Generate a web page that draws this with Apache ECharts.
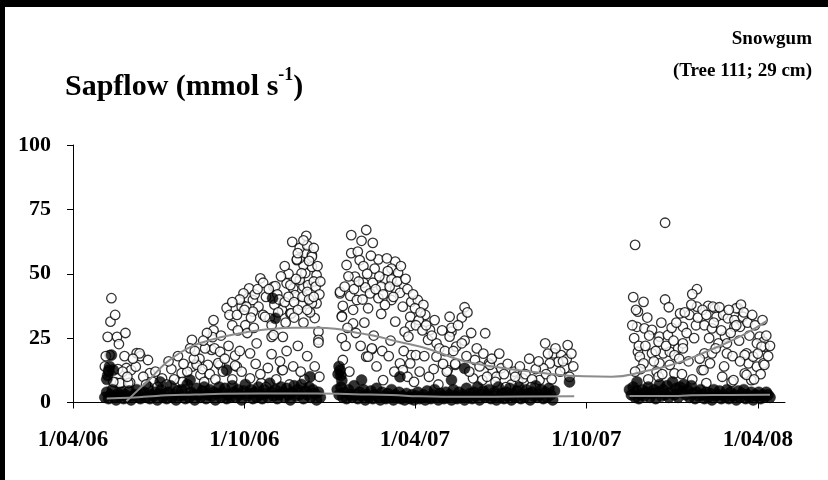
<!DOCTYPE html>
<html>
<head>
<meta charset="utf-8">
<script src="https://cdn.jsdelivr.net/npm/echarts@6/dist/echarts.min.js"></script>
<style>
  html, body { margin: 0; padding: 0; background: #fff; }
  #chart { width: 828px; height: 480px; }
</style>
</head>
<body>
<div id="chart"></div>
<script>
// x axis: days since 1/04/2006
const tickDays = [0, 183, 365, 548, 731];
const tickLabels = ['1/04/06', '1/10/06', '1/04/07', '1/10/07', '1/04/08'];

// open circles (day, sapflow)
const openSeg1 = [
  [37,25.5],[40,31.4],[41,40.5],[45,34],[47,25.5],[49,22.7],[56,27],[39,18.4],[35,18],[68,19.2],[72,18],[80,16.5],
  [57,13.4],[62,12.6],[67,13.9],[46,7.7],[52,7.7],[61,7.7],[82,11.4],[85,8],[71,19.1],[50,7.5],[59,7.5],
  [95,9.4],[96,6.1],[114,8],[127,13.9],[132,15.2],[136,10.7],[144,14.6],[157,14.6],[175,13.9],[148,20.4],
  [112,18],[127,24.3],[125,21],[135,17],[132,14.6],[116,11.4],[117,8],[141,21],[150,32],[150,28],[149,25.4],
  [151,21],[157,19.7],[155,15.3],[173,18.2],[173,14.3],[164,36.7],[167,34],[175,34],[180,37.2],[184,30],
  [187,40.5],[188,44.3],[192,39.8],[200,48.2],[203,46.5],[214,45],[198,37.2],[203,34],[210,32.7],[212,30],
  [212,18.8],[208,13.4],[223,12.6],[212,25.5],[224,25.5],[223,36],[232,34.6],[228,46.3],[235,44.3],[246,45],
  [242,47.6],[248,50.3],[260,49.5],[255,52.7],[246,53.4],[242,56],[248,58],[239,55.3],[234,62.4],[242,60],
  [249,64.7],[255,57.3],[260,38.5],[258,32.8],[262,27.5],[262,24.3],[255,38.5],[239,55.6],[255,56.6],
  [244,50.2],[232,45.6],[251,45.6],[216,45.2],[182,42.4],[237,41.7],[244,37.9],[185,37.2],[192,35.3],
  [205,33.3],[233,34.6],[214,26.2],[196,23],[262,23.3],[189,19.1],[224,12.6],[189,9.4],[201,7.5],
  [170,30],[176,28],[178,40],[183,36],[190,33],[194,42],[197,44],[170,39],[186,27],[193,29],
  [206,41],[209,44],[215,38],[218,42],[220,40],[226,39],[230,41],[219,35],[227,31],[236,39],[238,48],
  [230,50],[226,53],[222,49],[240,36],[245,41],[250,43],[252,40],[257,47],[253,35],[236,33],[246,31],
  [250,61],[252,55],[257,60],[259,45],[261,53],[263,42],[257,41],[250,36],[264,47],[246,63],[240,58],
  [88,12],[100,7],[105,13],[108,9],[120,5],[122,12],[129,17],[138,13],[140,8],[146,11],[152,9],[160,12],
  [162,17],[166,22],[170,9],[178,20],[180,12],[158,26],[143,27],[139,24],[130,20],[118,15],[102,16],
  [195,15],[200,11],[206,6],[217,9],[221,16],[228,20],[235,14],[240,22],[247,9],[250,18],[258,14],[263,10],
  [231,7],[243,12],[34,14],[38,12],[43,8],[48,13],[53,12],[55,18],[58,10],[64,17],[75,10],[78,7],[90,6]
];
const openSeg2 = [
  [297,65],[313,67],[308,62.8],[320,62],[297,58],[304,58.6],[306,55.3],[292,53.4],[310,53],[326,55.6],
  [344,54.7],[322,52],[340,52],[336,51],[301,48.9],[347,50.4],[310,46.5],[320,46.5],[333,47.8],[340,47.8],
  [312,44.7],[329,45],[344,44.3],[285,42.4],[296,41.4],[317,42.4],[349,42.6],[303,39.8],[326,40.5],[340,39.8],
  [288,37.5],[315,36.6],[333,37.9],[299,36],[287,33.6],[329,34.4],[352,37.2],[361,39.1],[368,39.8],[374,37.9],
  [365,36.6],[376,34],[360,33.3],[369,32],[299,30.7],[344,31.4],[360,29.7],[354,27.5],[358,25.6],[381,28.2],
  [379,24.3],[388,23],[402,33.3],[404,27.5],[402,25.6],[287,25],[388,17.8],[319,20.7],[313,17.8],[361,18.4],
  [366,18.4],[360,15.2],[349,15.2],[352,12.6],[400,12.6],[408,14.6],[331,8.7],[288,16.5],[285,43],[287,33.3],
  [319,21],[315,17.8],[404,29],[418,37],[440,26.9],[418,24],[409,21.7],[429,16.5],[408,15],[444,15.2],
  [448,12],[457,13.3],[452,10],[399,12],[427,9.4],[437,8.7],[475,8],[480,9.4],[504,23],[528,22.3],[513,19.1],
  [521,18.4],[518,15.8],[509,15.2],[527,16.8],[525,13.3],[502,13.3],[498,8.7],[445,14.6],
  [290,45],[294,49],[300,44],[305,47],[309,40],[314,50],[318,57],[323,44],[327,49],[331,42],[335,56],
  [338,45],[342,41],[346,47],[350,53],[355,48],[357,44],[363,42],[366,30],[371,35],[373,28],[377,30],
  [383,26],[386,32],[391,21],[394,28],[397,20],[293,29],[291,22],[295,12],[302,27],[307,22],[311,31],
  [321,26],[324,14],[330,20],[337,18],[339,24],[343,12],[353,20],[357,10],[364,8],[370,12],[375,18],
  [380,10],[385,13],[390,7],[395,15],[415,33],[421,35],
  [406,20],[411,30],[415,23],[420,18],[423,12],[425,27],[431,21],[434,14],[438,19],[442,10],[447,17],
  [451,8],[455,19],[460,11],[464,15],[468,7],[471,12],[477,14],[483,11],[487,17],[490,9],[494,13],
  [497,16],[505,11],[507,19],[511,9],[515,21],[520,12],[523,16],[530,10],[532,19],[534,14],[489,6],
  [462,6],[472,10]
];
const openSeg3 = [
  [632,69.8],[600,61.2],[598,40.9],[609,39.1],[603,35.3],[632,40],[636,37],[648,34.6],[666,44],[661,42.1],
  [678,37.5],[685,36.6],[666,37.2],[658,34],[651,29.4],[665,30],[674,30],[682,28.8],[687,33.3],[694,34],
  [699,32.7],[706,32],[710,36.6],[715,33.3],[712,29.4],[706,29.4],[602,29.4],[610,28.8],[618,28.2],[626,25.6],
  [635,26.2],[625,23.6],[603,19.7],[605,17.8],[618,19.1],[609,15.2],[630,19.1],[637,19.7],[646,21],[642,18.4],
  [651,23],[651,21],[626,15.2],[637,14.6],[623,12],[625,10],[671,12.6],[680,15.2],[674,19.1],[682,19.1],
  [689,23],[696,25.6],[698,19.1],[703,8],[719,19.1],[721,15.2],[726,17.8],[730,13.9],[737,15.2],[733,25.6],
  [737,23.6],[738,21.7],[730,23],[717,11.3],[724,8.7],[642,11.3],[676,7.5],[735,21.7],[738,14.6],[717,18.4],
  [719,10.7],[705,8.7],[673,12.6],[683,37.2],[708,36.6],[698,23],
  [597,30],[599,25],[601,36],[604,22],[606,13],[611,22],[613,33],[615,26],[620,16],[622,20],[628,31],
  [629,11],[633,22],[639,29],[641,24],[644,31],[647,17],[650,11],[653,35],[655,27],[657,16],[660,38],
  [663,25],[667,33],[669,17],[672,36],[676,34],[679,25],[684,31],[686,21],[690,37],[692,28],[695,14],
  [700,36],[702,27],[704,18],[708,30],[711,24],[713,38],[716,35],[720,31],[722,26],[725,34],[728,30],
  [731,19],[734,11],[736,32],[740,26],[742,18],[744,22],[727,9],[712,16],[693,10],[661,9],[614,9],[600,12]
];

// filled circles: dense band, one value every 2nd day from the start day
const bandStart1 = 34;
const band1 = [
  2,4,1.5,3,5,2,1,3.5,2.5,4, 1.5,3,2,4.5,1,2.5,3,5,2,1.5, 3,4,2,6,1.5,3,2.5,4,1,3.5,
  5,2,3,1.5,4,6.5,2,3,1,4.5, 2.5,5,3,1.5,7,2,4,3,1,5.5, 3,2,4.5,6,1.5,3,5,2.5,4,1,
  3.5,6,2,4,5.5,1.5,3,2,6.5,4, 2,5,3,1,4.5,7,2.5,3.5,5,1.5, 4,2,6,3,1.5,5,3.5,2,7.5,4,
  2.5,5,1.5,3,6,4,2,5.5,3,1, 4,6.5,2.5,5,3,7,1.5,4.5,3,6, 2,5,3.5,1,4,2
];
const bandStart2 = 282;
const band2 = [
  5,3,6,2,4,1.5,5,3,2,6.5, 3,1.5,4,2.5,5,1,3,2,4.5,1.5, 3,5.5,2,1,4,2.5,1.5,3.5,2,5,
  1,3,2,4,1.5,2.5,1,3.5,2,1.5, 3,1,2.5,4,1.5,2,3,1,4.5,2, 1.5,3,5,2,1,3.5,2.5,1.5,4,2,
  3,1,5,2.5,1.5,4,2,3,1,5.5, 2,3.5,1.5,4,2.5,6,1,3,4.5,2, 3,5,1.5,2.5,4,1,6,2,3.5,1.5,
  4,2.5,5.5,1,3,2,4.5,6,1.5,3, 2,5,3.5,1,4,2.5,6.5,2,3,5, 1.5,4,2,5.5,3,1,4.5
];
const bandStart3 = 594;
const band3 = [
  5,3,6,2,4.5,1.5,3,5,2.5,4, 6,2,3.5,5,1.5,4,7,2.5,5,3, 6.5,2,4,8,3,5.5,2,6,4,7,
  3,5,2,6.5,3.5,1.5,4,2.5,5,3, 1.5,4,2,3.5,1,5,2.5,3,4.5,1.5, 3,2,5,1.5,4,2.5,3,1,4.5,2,
  3.5,5,1.5,3,2,4,1,3,2.5,4, 1.5,3,2,4,3,2
];
const nightSpikes = [
  [36,9],[37,10.5],[38,12.5],[39,14],[41,18.4],[43,12.6],[93,8],[125,8.7],[164,12.6],[213,40.5],
  [216,32.7],[253,10],[283,11],[284,14],[285,12.5],[286,10.5],[287,8.5],[308,8.7],[349,10],[404,8.7],
  [418,13.3],[530,8],[602,8]
];

// fitted trend lines
const trendDay = [
  [57,0.5],[70,5],[82,9],[95,14],[107,17.5],[120,20.5],[135,23],[160,25.5],[185,27.3],[210,28.5],
  [235,29],[260,29],[280,28.6],[300,27.3],[320,26],[345,23.8],[381,20.6],[416,16.2],[452,13.8],[488,12],
  [520,10.7],[545,10.2],[575,10],[609,12],[644,15.2],[680,20.4],[715,26.2],[741,31.8]
];
const trendNight = [
  [36,1.6],[50,1.7],[80,2.3],[100,2.8],[130,3.1],[160,3.4],[200,3.5],[260,3.5],[300,3.2],[340,2.9],
  [370,2.4],[420,2.2],[480,2.3],[535,2.4],[570,'-'],[594,2.5],[640,2.5],[660,2.8],[700,2.9],[744,3]
];

function bandPoints(start, vals) {
  return vals.map((v, i) => [start + 2 * i, v]);
}
const nightData = bandPoints(bandStart1, band1)
  .concat(bandPoints(bandStart2, band2), bandPoints(bandStart3, band3), nightSpikes);
const dayData = openSeg1.concat(openSeg2, openSeg3);

const serif = 'Liberation Serif';
const chart = echarts.init(document.getElementById('chart'));

chart.setOption({
  animation: false,
  backgroundColor: '#fff',
  grid: {left: 73, right: 43, top: 145, bottom: 77.5},
  title: {
    text: '{a|Sapflow (mmol s}{s|-1}{a|)}',
    left: 60,
    top: 61,
    textStyle: {
      rich: {
        a: {fontFamily: serif, fontWeight: 'bold', fontSize: 30, color: '#000', lineHeight: 36, verticalAlign: 'bottom'},
        s: {fontFamily: serif, fontWeight: 'bold', fontSize: 18, color: '#000', lineHeight: 36, verticalAlign: 'top'}
      }
    }
  },
  graphic: [
    {type: 'rect', left: 0, top: 0, shape: {width: 828, height: 7}, style: {fill: '#000'}},
    {type: 'rect', left: 0, top: 0, shape: {width: 5, height: 480}, style: {fill: '#000'}},
    {type: 'text', right: 16, top: 30,
      style: {text: 'Snowgum', font: 'bold 19px "Liberation Serif"', fill: '#000', textAlign: 'right'}},
    {type: 'text', right: 16, top: 62,
      style: {text: '(Tree 111; 29 cm)', font: 'bold 19px "Liberation Serif"', fill: '#000', textAlign: 'right'}}
  ],
  xAxis: {
    type: 'value',
    min: 0,
    max: 760,
    splitLine: {show: false},
    axisLine: {onZero: false, lineStyle: {color: '#000', width: 1}},
    axisTick: {show: true, length: 6, inside: false, customValues: tickDays, lineStyle: {color: '#000'}},
    axisLabel: {
      customValues: tickDays,
      margin: 26,
      fontFamily: serif,
      fontWeight: 'bold',
      fontSize: 23,
      color: '#000',
      formatter: v => tickLabels[tickDays.indexOf(v)] || ''
    }
  },
  yAxis: {
    type: 'value',
    min: 0,
    max: 100,
    interval: 25,
    splitLine: {show: false},
    axisLine: {show: true, lineStyle: {color: '#000', width: 1}},
    axisTick: {show: true, length: 6, lineStyle: {color: '#000'}},
    axisLabel: {margin: 22, fontFamily: serif, fontWeight: 'bold', fontSize: 22, color: '#000'}
  },
  series: [
    {
      name: 'day',
      type: 'scatter',
      data: dayData,
      symbol: 'circle',
      symbolSize: 9.5,
      itemStyle: {color: '#fff', borderColor: '#000', borderWidth: 1.3}
    },
    {
      name: 'night',
      type: 'scatter',
      data: nightData,
      symbol: 'circle',
      symbolSize: 11,
      itemStyle: {color: '#000', borderColor: '#000', borderWidth: 0.5}
    },
    {
      name: 'day trend',
      type: 'line',
      data: trendDay,
      smooth: true,
      showSymbol: false,
      lineStyle: {color: '#8c8c8c', width: 2}
    },
    {
      name: 'night trend',
      type: 'line',
      data: trendNight,
      smooth: true,
      showSymbol: false,
      connectNulls: false,
      lineStyle: {color: '#8c8c8c', width: 2}
    }
  ]
});
</script>
</body>
</html>
